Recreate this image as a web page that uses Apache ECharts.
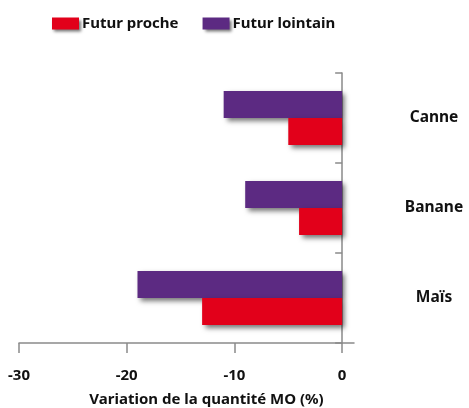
<!DOCTYPE html>
<html><head><meta charset="utf-8">
<script src="https://cdn.jsdelivr.net/npm/echarts@6/dist/echarts.min.js"></script>
<style>html,body{margin:0;padding:0;background:#fff}#c{width:469px;height:408px}</style>
</head><body><div id="c"></div>
<script>
const categories = ['Maïs', 'Banane', 'Canne'];
const futurProche = [-13, -4, -5];
const futurLointain = [-19, -9, -11];
const xTicks = [-30, -20, -10, 0];

const font = '"Noto Sans", sans-serif';
const shadow = {shadowBlur: 5, shadowOffsetX: 3, shadowOffsetY: 3, shadowColor: 'rgba(0,0,0,0.55)'};
const chart = echarts.init(document.getElementById('c'));
chart.setOption({
  animation: false,
  legend: {
    top: 11, left: 47, itemWidth: 27, itemHeight: 12, itemGap: 24,
    icon: 'rect',
    itemStyle: {shadowBlur: 3, shadowOffsetX: 2, shadowOffsetY: 2, shadowColor: 'rgba(0,0,0,0.55)'},
    textStyle: {fontFamily: font, fontWeight: 'bold', fontSize: 15, color: '#111', padding: [0,0,0,-2]},
    data: ['Futur proche', 'Futur lointain']
  },
  grid: {left: 19, right: 115, top: 73, bottom: 65, outerBoundsMode: 'none', containLabel: false},
  xAxis: {
    type: 'value', min: -30, max: 1.1, interval: 10,
    splitLine: {show: false},
    axisLine: {show: true, lineStyle: {color: '#8a8a8a', width: 1.5}},
    axisTick: {show: true, length: 10, customValues: xTicks, lineStyle: {color: '#8a8a8a', width: 1.5}},
    axisLabel: {customValues: xTicks, margin: 25, fontFamily: font, fontWeight: 'bold', fontSize: 15, color: '#111'},
    name: 'Variation de la quantité MO (%)', nameLocation: 'middle', nameGap: 49,
    nameTextStyle: {fontFamily: font, fontWeight: 'bold', fontSize: 15, color: '#111', padding: [0,0,0,40]}
  },
  yAxis: {
    type: 'category', data: categories, position: 'right',
    axisLine: {show: true, onZero: true, lineStyle: {color: '#8a8a8a', width: 1.5}},
    axisTick: {show: true, inside: true, length: 7, lineStyle: {color: '#8a8a8a', width: 1.5}},
    axisLabel: {align: 'center', margin: 80, fontFamily: font, fontWeight: 'bold', fontSize: 15.5, color: '#111'}
  },
  series: [
    {name: 'Futur lointain', type: 'bar', data: futurLointain, barGap: '0%', barCategoryGap: '40%',
     itemStyle: Object.assign({color: '#5c2a82'}, shadow)},
    {name: 'Futur proche', type: 'bar', data: futurProche, barGap: '0%', barCategoryGap: '40%',
     itemStyle: Object.assign({color: '#e2001a'}, shadow)}
  ]
});
</script></body></html>
